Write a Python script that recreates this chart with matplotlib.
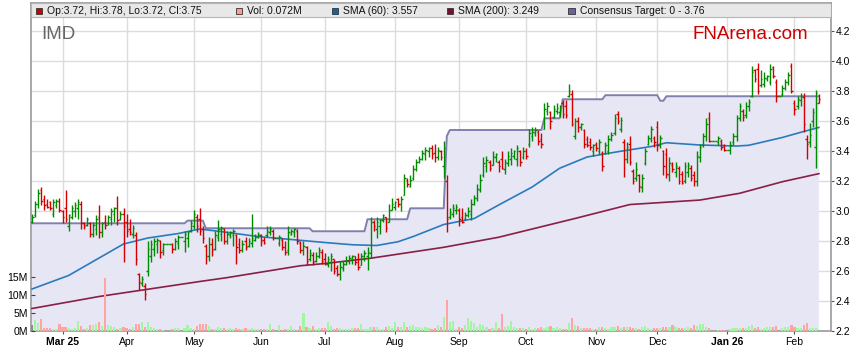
import matplotlib.pyplot as plt
from matplotlib.patches import Rectangle
import numpy as np
import pandas as pd

plt.rcParams['font.family'] = ['Liberation Sans', 'DejaVu Sans']

# trading days (weekdays; ASX holidays show as flat bars)
dates = pd.bdate_range('2025-02-17', '2026-02-12')

opens = [2.93, 2.97, 3.05, 3.14, 3.08, 3.05, 3.06, 2.98, 3.04, 3.07,
         3.00, 3.02, 2.90, 2.96, 3.00, 3.02, 3.05, 2.92, 2.91, 2.92,
         2.85, 2.88, 2.96, 2.86, 2.93, 2.92, 2.95, 2.98, 3.02, 2.95,
         2.98, 2.93, 2.88, 2.85, 2.84, 2.58, 2.52, 2.50, 2.60, 2.70,
         2.75, 2.78, 2.80, 2.74, 2.78, 2.78, 2.78, 2.75, 2.79, 2.83,
         2.80, 2.82, 2.87, 2.90, 2.96, 2.95, 2.88, 2.77, 2.70, 2.78,
         2.75, 2.83, 2.85, 2.88, 2.80, 2.84, 2.84, 2.84, 2.78, 2.74,
         2.80, 2.77, 2.79, 2.81, 2.83, 2.84, 2.81, 2.84, 2.86, 2.87,
         2.82, 2.79, 2.81, 2.76, 2.74, 2.85, 2.86, 2.87, 2.79, 2.74,
         2.76, 2.68, 2.71, 2.67, 2.70, 2.73, 2.68, 2.65, 2.66, 2.68,
         2.62, 2.58, 2.62, 2.65, 2.67, 2.68, 2.70, 2.68, 2.64, 2.70,
         2.70, 2.72, 2.93, 2.88, 2.90, 2.94, 2.96, 2.93, 3.01, 3.03,
         3.08, 3.05, 3.11, 3.21, 3.17, 3.22, 3.28, 3.33, 3.35, 3.38,
         3.40, 3.42, 3.39, 3.36, 3.40, 3.30, 3.20, 2.96, 2.98, 3.01,
         3.01, 2.96, 2.95, 2.97, 2.98, 3.05, 3.09, 3.14, 3.24, 3.30,
         3.33, 3.31, 3.36, 3.33, 3.35, 3.28, 3.32, 3.35, 3.37, 3.35,
         3.40, 3.36, 3.40, 3.45, 3.50, 3.52, 3.53, 3.48, 3.55, 3.67,
         3.66, 3.63, 3.67, 3.66, 3.72, 3.70, 3.77, 3.78, 3.50, 3.60,
         3.56, 3.54, 3.48, 3.46, 3.40, 3.45, 3.40, 3.39, 3.39, 3.40,
         3.48, 3.52, 3.65, 3.55, 3.46, 3.35, 3.45, 3.27, 3.22, 3.24,
         3.16, 3.32, 3.45, 3.48, 3.49, 3.56, 3.44, 3.40, 3.38, 3.24,
         3.31, 3.26, 3.29, 3.25, 3.20, 3.26, 3.29, 3.24, 3.20, 3.36,
         3.44, 3.50, 3.62, 3.47, 3.47, 3.46, 3.47, 3.44, 3.41, 3.41,
         3.46, 3.50, 3.62, 3.67, 3.64, 3.70, 3.77, 3.94, 3.95, 3.84,
         3.85, 3.88, 3.86, 3.96, 3.86, 3.77, 3.78, 3.82, 3.86, 3.97,
         3.72, 3.70, 3.74, 3.76, 3.48, 3.46, 3.60, 3.43, 3.72]

highs = [2.98, 3.07, 3.15, 3.16, 3.11, 3.08, 3.07, 3.08, 3.08, 3.09,
         3.01, 3.14, 2.98, 3.04, 3.06, 3.08, 3.07, 2.93, 2.96, 2.93,
         2.93, 2.97, 3.04, 2.93, 2.97, 2.97, 3.02, 3.03, 3.10, 3.00,
         3.02, 2.98, 2.95, 2.91, 2.86, 2.59, 2.57, 2.52, 2.80, 2.81,
         2.82, 2.82, 2.81, 2.79, 2.78, 2.78, 2.79, 2.82, 2.84, 2.83,
         2.87, 2.87, 2.94, 3.01, 2.98, 3.02, 2.90, 2.78, 2.83, 2.82,
         2.87, 2.94, 2.90, 2.89, 2.87, 2.87, 2.88, 2.85, 2.82, 2.81,
         2.83, 2.82, 2.98, 2.85, 2.86, 2.85, 2.83, 2.90, 2.90, 2.88,
         2.82, 2.84, 2.82, 2.80, 2.90, 2.88, 2.89, 2.88, 2.80, 2.80,
         2.77, 2.75, 2.73, 2.73, 2.76, 2.75, 2.72, 2.70, 2.72, 2.68,
         2.64, 2.67, 2.67, 2.70, 2.71, 2.71, 2.70, 2.72, 2.72, 2.74,
         2.76, 2.96, 2.94, 2.96, 2.95, 2.98, 2.96, 3.05, 3.09, 3.07,
         3.09, 3.10, 3.25, 3.22, 3.24, 3.31, 3.35, 3.37, 3.41, 3.43,
         3.43, 3.44, 3.45, 3.43, 3.41, 3.47, 3.24, 3.02, 3.05, 3.05,
         3.02, 3.02, 2.99, 3.03, 3.08, 3.11, 3.18, 3.25, 3.36, 3.37,
         3.34, 3.40, 3.39, 3.34, 3.40, 3.35, 3.40, 3.42, 3.41, 3.44,
         3.41, 3.43, 3.42, 3.55, 3.56, 3.56, 3.54, 3.52, 3.72, 3.73,
         3.67, 3.71, 3.72, 3.71, 3.74, 3.74, 3.85, 3.81, 3.62, 3.63,
         3.59, 3.55, 3.50, 3.49, 3.45, 3.46, 3.48, 3.40, 3.46, 3.51,
         3.53, 3.65, 3.67, 3.63, 3.48, 3.46, 3.50, 3.28, 3.33, 3.25,
         3.25, 3.42, 3.51, 3.57, 3.50, 3.60, 3.51, 3.41, 3.42, 3.36,
         3.33, 3.33, 3.30, 3.27, 3.33, 3.33, 3.31, 3.27, 3.40, 3.45,
         3.52, 3.62, 3.66, 3.47, 3.47, 3.50, 3.48, 3.45, 3.41, 3.47,
         3.52, 3.64, 3.72, 3.68, 3.73, 3.75, 3.97, 3.95, 3.99, 3.94,
         3.93, 3.91, 3.98, 3.97, 3.88, 3.77, 3.84, 3.88, 3.93, 3.99,
         3.74, 3.77, 3.79, 3.79, 3.51, 3.59, 3.69, 3.81, 3.78]

lows = [2.92, 2.96, 3.02, 3.04, 3.01, 3.02, 3.01, 2.96, 3.02, 2.99,
        2.92, 2.93, 2.87, 2.95, 2.96, 2.95, 2.88, 2.88, 2.90, 2.83,
        2.83, 2.84, 2.82, 2.83, 2.88, 2.91, 2.91, 2.93, 2.91, 2.94,
        2.66, 2.83, 2.84, 2.82, 2.64, 2.47, 2.50, 2.41, 2.57, 2.66,
        2.70, 2.72, 2.69, 2.71, 2.78, 2.78, 2.72, 2.74, 2.75, 2.83,
        2.73, 2.76, 2.86, 2.88, 2.86, 2.84, 2.79, 2.65, 2.67, 2.70,
        2.74, 2.80, 2.80, 2.78, 2.78, 2.82, 2.77, 2.65, 2.72, 2.73,
        2.74, 2.76, 2.76, 2.80, 2.82, 2.77, 2.78, 2.83, 2.84, 2.81,
        2.82, 2.77, 2.74, 2.71, 2.71, 2.84, 2.83, 2.78, 2.72, 2.71,
        2.64, 2.67, 2.64, 2.66, 2.69, 2.65, 2.64, 2.63, 2.60, 2.58,
        2.57, 2.54, 2.60, 2.64, 2.65, 2.65, 2.64, 2.61, 2.64, 2.67,
        2.61, 2.69, 2.87, 2.82, 2.85, 2.93, 2.86, 2.93, 3.01, 3.01,
        3.03, 3.00, 3.11, 3.16, 3.16, 3.21, 3.27, 3.32, 3.34, 3.34,
        3.36, 3.35, 3.33, 3.34, 3.34, 3.22, 2.86, 2.95, 2.96, 2.98,
        2.90, 2.92, 2.94, 2.96, 2.94, 3.04, 3.07, 3.13, 3.23, 3.26,
        3.27, 3.31, 3.33, 3.26, 3.28, 3.25, 3.30, 3.31, 3.35, 3.30,
        3.30, 3.35, 3.35, 3.43, 3.47, 3.50, 3.44, 3.42, 3.55, 3.64,
        3.55, 3.62, 3.65, 3.63, 3.62, 3.62, 3.76, 3.57, 3.48, 3.53,
        3.54, 3.42, 3.43, 3.41, 3.37, 3.40, 3.38, 3.27, 3.38, 3.38,
        3.47, 3.51, 3.58, 3.53, 3.23, 3.32, 3.31, 3.18, 3.20, 3.13,
        3.13, 3.31, 3.44, 3.46, 3.43, 3.40, 3.42, 3.24, 3.22, 3.20,
        3.26, 3.23, 3.18, 3.18, 3.19, 3.23, 3.20, 3.17, 3.17, 3.33,
        3.43, 3.47, 3.46, 3.47, 3.47, 3.44, 3.41, 3.40, 3.41, 3.38,
        3.44, 3.47, 3.60, 3.60, 3.62, 3.67, 3.76, 3.86, 3.78, 3.83,
        3.83, 3.87, 3.84, 3.89, 3.73, 3.77, 3.77, 3.81, 3.84, 3.79,
        3.64, 3.68, 3.70, 3.53, 3.35, 3.43, 3.56, 3.29, 3.72]

closes = [2.96, 3.05, 3.12, 3.07, 3.04, 3.03, 3.02, 3.06, 3.07, 3.01,
          2.96, 2.95, 2.97, 3.02, 3.04, 3.06, 2.92, 2.90, 2.95, 2.85,
          2.91, 2.95, 2.86, 2.92, 2.91, 2.96, 3.00, 3.02, 2.94, 2.98,
          2.90, 2.87, 2.86, 2.89, 2.68, 2.53, 2.55, 2.45, 2.75, 2.78,
          2.80, 2.81, 2.73, 2.78, 2.78, 2.78, 2.75, 2.80, 2.83, 2.83,
          2.85, 2.86, 2.92, 2.98, 2.90, 2.87, 2.82, 2.70, 2.78, 2.74,
          2.84, 2.88, 2.89, 2.80, 2.85, 2.86, 2.87, 2.76, 2.74, 2.78,
          2.76, 2.80, 2.82, 2.83, 2.85, 2.80, 2.79, 2.87, 2.88, 2.82,
          2.82, 2.83, 2.76, 2.73, 2.86, 2.87, 2.88, 2.80, 2.74, 2.77,
          2.67, 2.72, 2.66, 2.70, 2.74, 2.67, 2.65, 2.68, 2.70, 2.60,
          2.58, 2.63, 2.65, 2.67, 2.69, 2.70, 2.66, 2.63, 2.70, 2.72,
          2.73, 2.93, 2.90, 2.93, 2.94, 2.97, 2.89, 3.01, 3.05, 3.06,
          3.05, 3.08, 3.22, 3.18, 3.21, 3.28, 3.33, 3.35, 3.39, 3.41,
          3.42, 3.38, 3.36, 3.41, 3.36, 3.42, 2.95, 2.99, 3.02, 3.03,
          2.95, 2.93, 2.97, 3.00, 3.05, 3.09, 3.15, 3.21, 3.32, 3.34,
          3.29, 3.37, 3.38, 3.30, 3.29, 3.33, 3.37, 3.39, 3.40, 3.42,
          3.33, 3.40, 3.37, 3.52, 3.53, 3.54, 3.47, 3.45, 3.68, 3.70,
          3.60, 3.68, 3.69, 3.70, 3.65, 3.64, 3.80, 3.58, 3.60, 3.56,
          3.58, 3.45, 3.44, 3.43, 3.44, 3.42, 3.46, 3.30, 3.44, 3.48,
          3.51, 3.62, 3.60, 3.61, 3.35, 3.43, 3.33, 3.20, 3.28, 3.17,
          3.22, 3.40, 3.49, 3.55, 3.46, 3.44, 3.49, 3.30, 3.25, 3.32,
          3.28, 3.30, 3.20, 3.19, 3.30, 3.31, 3.22, 3.20, 3.37, 3.43,
          3.50, 3.58, 3.47, 3.47, 3.47, 3.49, 3.43, 3.41, 3.41, 3.44,
          3.50, 3.62, 3.70, 3.63, 3.70, 3.73, 3.93, 3.88, 3.80, 3.88,
          3.89, 3.90, 3.95, 3.90, 3.77, 3.77, 3.82, 3.86, 3.91, 3.80,
          3.68, 3.75, 3.77, 3.58, 3.45, 3.51, 3.66, 3.79, 3.75]

# volume in millions of shares
volume_m = [1.6, 3.0, 2.1, 3.2, 0.7, 0.7, 0.9, 0.5, 0.5, 1.9,
            1.1, 1.1, 0.7, 0.6, 0.7, 2.7, 1.4, 0.5, 0.9, 1.6,
            1.8, 1.9, 2.5, 1.4, 14.8, 1.6, 1.4, 1.1, 0.6, 0.7,
            1.0, 0.9, 0.6, 1.2, 1.9, 1.9, 2.4, 1.0, 2.4, 1.2,
            0.7, 0.5, 0.5, 0.3, 0.0, 0.0, 0.5, 0.7, 0.7, 0.0,
            0.9, 1.6, 0.9, 0.5, 1.4, 1.9, 1.9, 1.9, 1.4, 0.6,
            0.6, 1.2, 0.7, 0.7, 0.6, 0.7, 0.5, 0.7, 0.6, 0.5,
            0.8, 0.6, 0.7, 0.5, 0.6, 0.6, 0.5, 0.5, 1.9, 0.6,
            0.0, 1.7, 0.4, 0.5, 0.6, 1.5, 0.6, 0.4, 1.3, 5.0,
            1.0, 0.8, 1.5, 0.6, 0.7, 0.7, 0.7, 2.5, 1.3, 0.6,
            0.7, 0.8, 0.6, 0.6, 0.6, 0.8, 0.7, 0.7, 1.9, 0.6,
            0.5, 1.2, 1.2, 1.2, 0.5, 0.5, 1.0, 1.3, 0.8, 2.5,
            1.2, 1.0, 2.5, 1.0, 1.5, 1.7, 1.0, 1.2, 0.8, 1.0,
            0.8, 0.5, 0.8, 1.7, 1.0, 4.0, 8.7, 2.5, 2.9, 0.5,
            1.0, 0.8, 1.7, 3.7, 2.7, 2.2, 1.0, 2.0, 1.7, 1.0,
            0.5, 0.7, 2.5, 0.7, 4.7, 1.0, 1.5, 2.7, 1.0, 0.8,
            0.8, 0.8, 0.5, 1.2, 0.5, 0.8, 0.8, 1.0, 0.8, 1.2,
            1.5, 0.7, 1.2, 0.8, 0.6, 0.5, 2.3, 3.5, 1.7, 1.5,
            0.8, 0.8, 0.8, 0.9, 0.6, 0.6, 1.0, 1.0, 0.8, 0.6,
            1.0, 1.2, 1.3, 0.7, 1.0, 1.0, 1.0, 0.8, 0.7, 0.6,
            1.2, 1.5, 0.9, 0.5, 0.7, 0.7, 0.7, 1.2, 1.2, 1.2,
            1.7, 1.0, 0.8, 0.8, 0.7, 1.0, 0.8, 1.7, 1.5, 2.0,
            2.0, 1.0, 0.8, 0.0, 0.0, 0.4, 0.3, 0.3, 0.0, 0.5,
            0.8, 0.8, 0.7, 0.8, 0.8, 1.5, 1.7, 0.8, 1.0, 0.5,
            0.8, 1.0, 1.0, 1.2, 1.5, 0.0, 0.8, 1.0, 1.0, 1.7,
            1.0, 0.8, 0.8, 1.8, 2.3, 0.8, 0.7, 0.7, 0.072]

sma60_dates = ['2025-02-17', '2025-03-05', '2025-03-21', '2025-03-31', '2025-04-10',
               '2025-04-24', '2025-05-05', '2025-05-15', '2025-05-30', '2025-06-16',
               '2025-07-01', '2025-07-14', '2025-07-24', '2025-08-04', '2025-08-11',
               '2025-08-25', '2025-09-08', '2025-09-18', '2025-10-03', '2025-10-16',
               '2025-10-29', '2025-11-12', '2025-11-27', '2025-12-04', '2025-12-19',
               '2026-01-06', '2026-01-12', '2026-01-27', '2026-02-05', '2026-02-12']
sma60_vals = [2.48, 2.57, 2.71, 2.78, 2.82, 2.85, 2.88, 2.86, 2.83, 2.81,
              2.79, 2.775, 2.77, 2.795, 2.83, 2.91, 2.95, 3.04, 3.16, 3.285,
              3.36, 3.395, 3.43, 3.455, 3.44, 3.433, 3.438, 3.49, 3.53, 3.557]

sma200_dates = ['2025-02-17', '2025-03-19', '2025-05-05', '2025-05-16', '2025-06-19',
                '2025-07-01', '2025-07-22', '2025-08-25', '2025-09-18', '2025-10-13',
                '2025-10-23', '2025-11-18', '2025-12-19', '2026-01-07', '2026-01-27',
                '2026-02-12']
sma200_vals = [2.35, 2.43, 2.53, 2.556, 2.635, 2.65, 2.685, 2.758, 2.825, 2.91,
               2.95, 3.043, 3.073, 3.118, 3.195, 3.249]

# consensus target revisions (value holds until next revision)
target_dates = ['2025-02-17', '2025-04-29', '2025-05-07', '2025-06-25', '2025-07-21',
                '2025-08-08', '2025-08-26', '2025-08-27', '2025-10-09', '2025-10-17',
                '2025-11-06', '2025-12-02', '2025-12-04']
target_vals = [2.918, 2.936, 2.885, 2.865, 2.945, 3.018, 3.50, 3.54, 3.618, 3.745,
               3.772, 3.735, 3.765]

legend_labels = ['Op:3.72, Hi:3.78, Lo:3.72, Cl:3.75', 'Vol: 0.072M', 'SMA (60): 3.557',
                 'SMA (200): 3.249', 'Consensus Target: 0 - 3.76']
legend_colors = ['#cc0000', '#ff9a9a', '#0f64a8', '#7a0f33', '#66669a']

W, H = 859, 363
fig = plt.figure(figsize=(W / 100, H / 100), dpi=100)
ax = fig.add_axes([30.7 / W, 32 / H, 800.3 / W, 327.7 / H])

x = np.arange(len(dates))
o = np.array(opens)
hi = np.array(highs)
lo = np.array(lows)
c = np.array(closes)
prev = np.r_[c[0], c[:-1]]
bar_cols = np.where(c >= prev, '#008a00', '#d40000')

target = pd.Series(target_vals, index=pd.to_datetime(target_dates)).reindex(dates, method='ffill')
ax.fill_between(x, 0, target.values, color='#e6e6f5', lw=0, zorder=1)
ax.plot(x, target.values, color='#8080b0', lw=1.4, zorder=2)

i60 = dates.get_indexer(pd.to_datetime(sma60_dates))
i200 = dates.get_indexer(pd.to_datetime(sma200_dates))
ax.plot(i60, sma60_vals, color='#2a7bbd', lw=1.2, zorder=3)
ax.plot(i200, sma200_vals, color='#8a1f46', lw=1.2, zorder=3)

ax.vlines(x, lo, hi, colors=bar_cols, lw=1.0, zorder=4)
ax.hlines(o, x - 0.5, x, colors=bar_cols, lw=1.0, zorder=4)
ax.hlines(c, x, x + 0.5, colors=bar_cols, lw=1.0, zorder=4)

ax.set_xlim(-0.43, 261.97)
ax.set_ylim(2.2, 2.2 + 327.7 / 150)

# month ticks at the first trading day of each month
pos = pd.Series(x, index=dates)
firsts = pos.groupby([dates.year, dates.month]).first().values[1:]
mlabels = []
for k, i in enumerate(firsts):
    d = dates[i]
    lab = d.strftime('%b')
    if k == 0 or d.month == 1:
        lab += ' ' + d.strftime('%y')
    mlabels.append(lab)
ax.set_xticks(firsts)
ax.set_xticklabels(mlabels)
for t, lab in zip(ax.get_xticklabels(), mlabels):
    if ' ' in lab:
        t.set_fontweight('bold')
ax.tick_params(axis='x', direction='out', length=2.5, width=0.8, color='#555555',
               labelsize=7.5, pad=2)

ax.grid(True, color='#dcdcdc', lw=1.0)
ax.set_axisbelow(True)
for s in ax.spines.values():
    s.set_color('#9a9a9a')
    s.set_linewidth(1.2)

# legend band across the top
band = 13.4 / 327.7
ax.add_patch(Rectangle((0, 1 - band), 1, band, transform=ax.transAxes,
                       facecolor='#e8e8e8', edgecolor='#b4b4b4', lw=0.8, zorder=6))

# volume on the left axis
axv = ax.twinx()
vol = np.array(volume_m)
vcols = np.where(c > prev, '#a3f5a3', np.where(c < prev, '#ffa3a3', '#8c8c8c'))
axv.bar(x, vol, width=0.7, color=vcols, lw=0)
axv.set_ylim(0, 327.7 / 3.6)
axv.yaxis.tick_left()
axv.set_yticks([0, 5, 10, 15])
axv.set_yticklabels(['0M', '5M', '10M', '15M'])
axv.tick_params(axis='y', direction='in', length=3, width=0.8, color='#444444',
                labelsize=7.5, pad=2, labelleft=True, labelright=False)
for s in axv.spines.values():
    s.set_visible(False)

# price axis on the right (after twinx, which moves it)
ax.yaxis.tick_right()
yt = np.round(np.arange(2.2, 4.21, 0.2), 1)
ax.set_yticks(yt)
ax.set_yticklabels([f'{v:.1f}' for v in yt])
ax.tick_params(axis='y', direction='out', length=2.2, width=0.8, color='#555555',
               labelsize=7.5, pad=1, labelleft=False, labelright=True)

# legend entries
sq_x = [35.7, 235.7, 331.7, 446.7, 568.3]
tx_x = [46.7, 246.7, 342.7, 458.3, 580.0]
for lab, col, sx, tx in zip(legend_labels, legend_colors, sq_x, tx_x):
    fig.add_artist(Rectangle((sx / W, 1 - 14.2 / H), 6.6 / W, 6.6 / H,
                             transform=fig.transFigure, facecolor=col,
                             edgecolor='#333333', lw=0.6))
    fig.text(tx / W, 1 - 10.9 / H, lab, fontsize=7.5, color='#111111',
             ha='left', va='center')

fig.text(41.7 / W, 1 - 39.3 / H, 'IMD', fontsize=13.5, color='#666666',
         ha='left', va='baseline')
fig.text(808.3 / W, 1 - 39.3 / H, 'FNArena.com', fontsize=13.5, color='#cc0000',
         ha='right', va='baseline')

fig.savefig('out.png', dpi=100)
